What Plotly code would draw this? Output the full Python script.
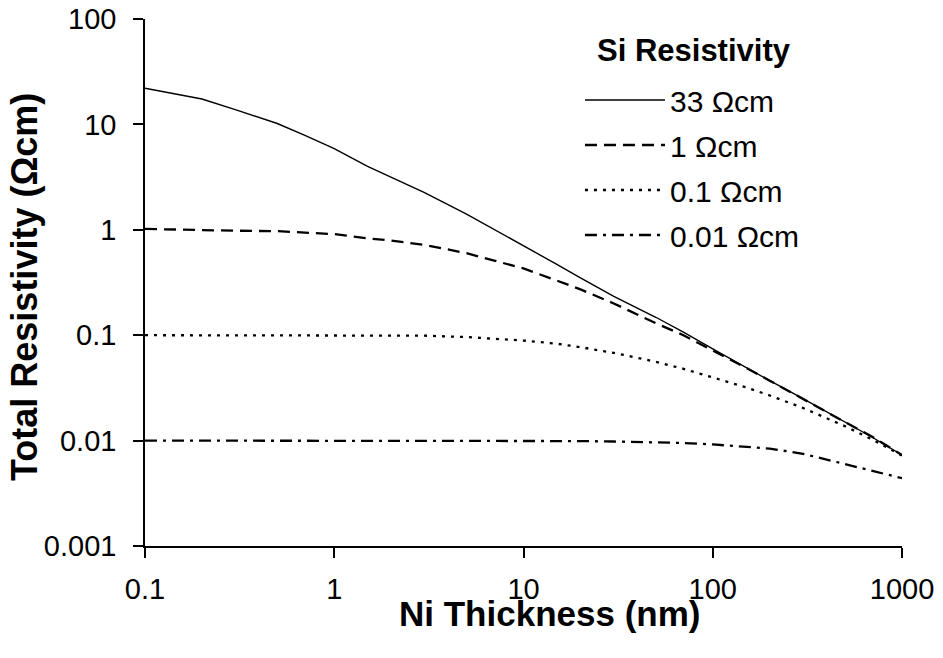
import plotly.graph_objects as go

# Ni thickness (nm)
thickness = [0.1, 0.15, 0.2, 0.3, 0.5, 0.7, 1, 1.5, 2, 3, 5, 7, 10, 15, 20, 30,
             50, 70, 100, 150, 200, 300, 500, 700, 1000]

# Total resistivity (Ohm cm) for each Si resistivity
rho_33 = [22, 19.0, 17.4, 13.8, 10.2, 7.85, 5.9, 4.0, 3.17, 2.25, 1.41, 1.01, 0.70,
          0.47, 0.35, 0.234, 0.148, 0.107, 0.074, 0.049, 0.037, 0.0250, 0.0150,
          0.0107, 0.0073]
rho_1 = [1.02, 1.0, 1.0, 0.98, 0.97, 0.94, 0.91, 0.83, 0.79, 0.72, 0.60, 0.51, 0.43,
         0.33, 0.272, 0.20, 0.13, 0.10, 0.072, 0.049, 0.037, 0.025, 0.015, 0.0108,
         0.0073]
rho_01 = [0.1, 0.1, 0.1, 0.1, 0.1, 0.1, 0.1, 0.1, 0.1, 0.099, 0.096, 0.093, 0.089,
          0.083, 0.077, 0.068, 0.056, 0.048, 0.040, 0.032, 0.0268, 0.0204, 0.0137,
          0.0102, 0.0072]
rho_001 = [0.01, 0.01, 0.01, 0.01, 0.01, 0.01, 0.01, 0.01, 0.01, 0.01, 0.01, 0.01,
           0.01, 0.0099, 0.0099, 0.0098, 0.0097, 0.0095, 0.0092, 0.0088, 0.0084,
           0.0075, 0.0060, 0.0051, 0.0044]

series_names = ["33 \u03a9cm", "1 \u03a9cm", "0.1 \u03a9cm", "0.01 \u03a9cm"]
series_values = [rho_33, rho_1, rho_01, rho_001]
series_dash = ["solid", "12px,7px", "3px,6px", "12px,6px,3px,6px"]
series_width = [1.4, 2.3, 2.3, 2.3]

x_tickvals = [0.1, 1, 10, 100, 1000]
x_ticktext = ["0.1", "1", "10", "100", "1000"]
y_tickvals = [0.001, 0.01, 0.1, 1, 10, 100]
y_ticktext = ["0.001", "0.01", "0.1", "1", "10", "100"]

FONT = "Arial, 'Liberation Sans', Helvetica, sans-serif"

fig = go.Figure()
for i, (name, vals, dash, w) in enumerate(zip(series_names, series_values, series_dash, series_width)):
    fig.add_trace(go.Scatter(x=thickness, y=vals, mode="lines", name=name,
                             legendgroup=f"g{i}",
                             line=dict(color="black", width=w, dash=dash)))

axis_common = dict(showgrid=False, zeroline=False, showline=True, linecolor="black",
                   linewidth=1.5, ticks="outside", ticklen=10, tickwidth=1.5,
                   tickcolor="black", automargin=False,
                   tickfont=dict(family=FONT, size=29, color="black"))

fig.update_xaxes(type="log", range=[-1, 3], tickvals=x_tickvals, ticktext=x_ticktext,
                 ticklabelstandoff=6, **axis_common)
fig.update_yaxes(type="log", range=[-3, 2], tickvals=y_tickvals, ticktext=y_ticktext,
                 ticklabelstandoff=11, **axis_common)

fig.update_layout(
    width=943, height=658,
    margin=dict(l=145, r=41, t=19, b=112, autoexpand=False),
    plot_bgcolor="white", paper_bgcolor="white",
    font=dict(family=FONT, color="black"),
    showlegend=True,
    legend=dict(
        font=dict(family=FONT, size=30, color="black"),
        x=0.5746, y=0.8956, xanchor="left", yanchor="top",
        bgcolor="rgba(0,0,0,0)", borderwidth=0, itemwidth=80,
        tracegroupgap=3,
    ),
    annotations=[
        dict(text="<b>Si Resistivity</b>", xref="paper", yref="paper",
             x=(595 - 145) / 757, y=(546 - 50) / 527, xanchor="left", yanchor="middle",
             showarrow=False, font=dict(family=FONT, size=31, color="black")),
        dict(text="<b>Ni Thickness (nm)</b>", xref="paper", yref="paper",
             x=(549 - 145) / 757, y=-(614 - 546) / 527, xanchor="center", yanchor="middle",
             showarrow=False, font=dict(family=FONT, size=35, color="black")),
        dict(text="<b>Total Resistivity (\u03a9cm)</b>", xref="paper", yref="paper",
             x=-(145 - 24) / 757, y=(546 - 287) / 527, xanchor="center", yanchor="middle",
             textangle=-90, showarrow=False, font=dict(family=FONT, size=36, color="black")),
    ],
)

fig.write_html("out.html", config={"displayModeBar": False},
               post_script="document.body.style.margin='0';document.body.style.overflow='hidden';")
